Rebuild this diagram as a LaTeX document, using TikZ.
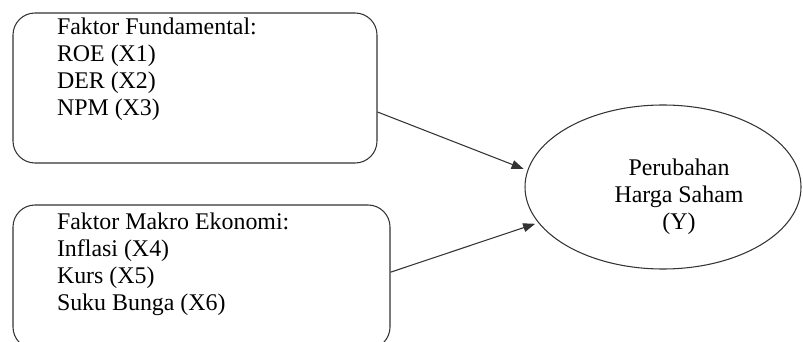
\documentclass[tikz,border=0pt]{standalone}
\usepackage{fontspec}
\setmainfont{Liberation Serif}
\usepackage{tikz}
\usetikzlibrary{arrows.meta,shapes.geometric}

\begin{document}
\begin{tikzpicture}[
  line width=0.75pt,
  every node/.style={font=\fontsize{17}{19.3}\selectfont},
  varbox/.style={draw=black!80, rectangle, rounded corners=0.55cm},
  txt/.style={anchor=north west, align=left, inner sep=0pt}
]
\useasboundingbox (0,0) rectangle (20.075,-8.55);
\clip (0,0) rectangle (20.075,-8.55);
% Nodes
\node[varbox, minimum width=9.1cm, minimum height=3.75cm] (fundbox) at (4.875,-2.2) {};
\node[varbox, minimum width=9.425cm, minimum height=3.6cm] (makbox) at (5.0375,-6.925) {};
\node[draw=black!80, ellipse, minimum width=6.9cm, minimum height=4.1cm] (harga) at (16.575,-4.675) {};

% Labels
\node[txt] (fundtxt) at ([xshift=1.1cm,yshift=-0.12cm]fundbox.north west) {Faktor Fundamental:\\ROE (X1)\\DER (X2)\\NPM (X3)};
\node[txt] (maktxt) at ([xshift=1.1cm,yshift=-0.2cm]makbox.north west) {Faktor Makro Ekonomi:\\Inflasi (X4)\\Kurs (X5)\\Suku Bunga (X6)};
\node[align=center, inner sep=0pt] (hargatxt) at ([xshift=0.4cm,yshift=-0.25cm]harga.center) {Perubahan\\Harga Saham\\(Y)};

% Arrows
\draw[-{Triangle[length=0.3cm,width=0.22cm]}, draw=black!80, shorten >=0.1cm] ([yshift=-0.6cm]fundbox.east) -- (harga.173);
\draw[-{Triangle[length=0.3cm,width=0.22cm]}, draw=black!80, shorten >=0.08cm] ([yshift=0.12cm]makbox.east) -- (harga.196);
\end{tikzpicture}
\end{document}
